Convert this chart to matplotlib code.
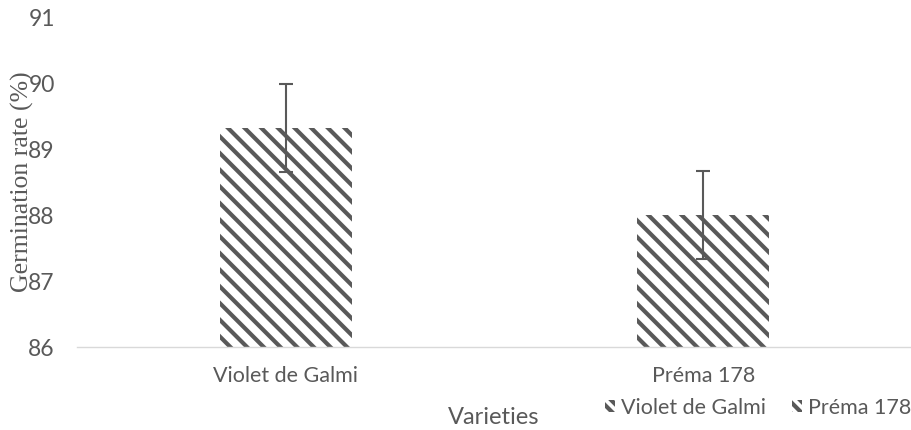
import matplotlib
matplotlib.use("Agg")
import matplotlib.pyplot as plt
from matplotlib.patches import Patch

# data
varieties = ["Violet de Galmi", "Préma 178"]
germination = [89.33, 88.0]
errors = [0.67, 0.67]

grey = "#595959"
plt.rcParams["hatch.linewidth"] = 3.0
plt.rcParams["font.family"] = ["Lato", "DejaVu Sans"]

fig = plt.figure(figsize=(9.12, 4.30), dpi=100)
ax = fig.add_axes([77 / 912, 1 - 347 / 430, 835 / 912, 329 / 430])

x = list(range(len(varieties)))
ax.bar(x, [g - 86 for g in germination], bottom=86, width=0.316,
       color="white", edgecolor=grey, hatch="\\\\", linewidth=0)
ax.errorbar(x, germination, yerr=errors, fmt="none", ecolor=grey,
            elinewidth=1.5, capsize=5, capthick=1.5)

ax.set_xlim(-0.5, 1.5)
ax.set_ylim(86, 91)
ax.set_yticks(range(86, 92))
ax.set_xticks(x)
ax.set_xticklabels(varieties)
ax.tick_params(axis="both", length=0, labelsize=15.5, colors=grey)
ax.tick_params(axis="y", labelsize=16.5, pad=16)
ax.tick_params(axis="x", pad=14)
for s in ["top", "right", "left"]:
    ax.spines[s].set_visible(False)
ax.spines["bottom"].set_color("#d9d9d9")
ax.spines["bottom"].set_linewidth(1)

fig.text(494 / 912, 1 - 418 / 430, "Varieties", ha="center", va="center",
         fontsize=17, color=grey)
fig.text(22 / 912, 1 - 182 / 430, "Germination rate (%)", rotation=90,
         ha="center", va="center", fontsize=18.5, color=grey,
         family="Liberation Serif")

handles = [Patch(facecolor="white", edgecolor=grey, linewidth=0,
                 hatch="\\\\\\", label=v) for v in varieties]
fig.legend(handles=handles, loc="center right", ncol=2, frameon=False,
           bbox_to_anchor=(0.999, 1 - 408 / 430), fontsize=15.5,
           handlelength=0.5, handleheight=0.5, handletextpad=0.25,
           columnspacing=1.2, labelcolor=grey, borderaxespad=0,
           borderpad=0)

fig.savefig("out.png", dpi=100)
